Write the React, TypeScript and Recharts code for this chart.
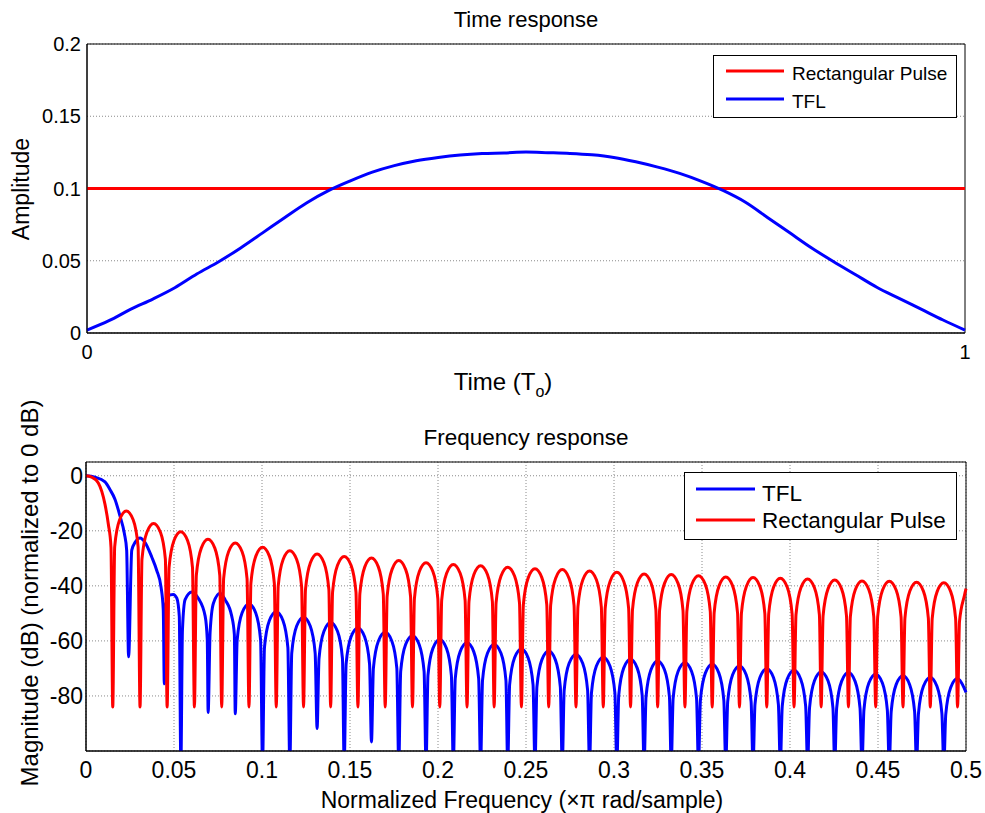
import { LineChart, Line, XAxis, YAxis, CartesianGrid, ReferenceArea } from "recharts";

const FONT = '"Liberation Sans", Arial, Helvetica, sans-serif';
const RED = "#ff0000";
const BLUE = "#0000ff";

// ---- time response (amplitude vs time in To) ----
const timeAxis = [
    0, 0.025, 0.05, 0.075, 0.1, 0.125, 0.15, 0.175, 0.2, 0.225,
    0.25, 0.275, 0.3, 0.325, 0.35, 0.375, 0.4, 0.425, 0.45, 0.475,
    0.5, 0.525, 0.55, 0.575, 0.6, 0.625, 0.65, 0.675, 0.7, 0.725,
    0.75, 0.775, 0.8, 0.825, 0.85, 0.875, 0.9, 0.925, 0.95, 0.975, 1,
];
const tflAmplitude = [
    0.002, 0.0085, 0.0165, 0.0235, 0.0313, 0.0408, 0.0493, 0.0589, 0.0693, 0.0798,
    0.09, 0.0985, 0.1053, 0.1113, 0.1158, 0.1192, 0.1215, 0.1232, 0.1242, 0.1246,
    0.1252, 0.1248, 0.1243, 0.1233, 0.1215, 0.1185, 0.1148, 0.1105, 0.105, 0.0985,
    0.0905, 0.08, 0.0695, 0.059, 0.0495, 0.0405, 0.0315, 0.024, 0.0165, 0.009, 0.002,
];
const rectTime = [0, 1];
const rectAmplitude = [0.1, 0.1];

const timeXTicks = [0, 1];
const timeYTicks = [0, 0.05, 0.1, 0.15, 0.2];

// ---- frequency response, [normalized freq, dB] ----
const tflDb: [number, number][] = [
    [0, 0], [0.0051, -0.5], [0.0108, -2.2], [0.0136, -5], [0.0165, -8.6], [0.0193, -14.6], [0.0218, -21], [0.0231, -27], [0.0242, -65.8],
    [0.026, -27], [0.0279, -24.2], [0.0307, -22.6], [0.0335, -24.2], [0.0374, -29.6], [0.0402, -34.4], [0.0426, -40.3], [0.0439, -48.7], [0.0445, -75.6],
    [0.0452, -47], [0.0478, -43.3], [0.0496, -43.1], [0.0516, -44.5], [0.053, -51], [0.0539, -105],
    [0.0548, -56], [0.0563, -45], [0.0601, -42.2], [0.0638, -44.5], [0.0677, -51], [0.0689, -59.5], [0.0694, -86],
    [0.0705, -57], [0.0724, -46.3], [0.0762, -42.7], [0.079, -45], [0.0828, -51], [0.0843, -57.7], [0.0848, -86.5],
    [0.0859, -59.6], [0.0887, -49.8], [0.0926, -46.6], [0.0964, -49.8], [0.0992, -59.6], [0.1003, -105],
    [0.1014, -62.4], [0.1042, -52.6], [0.1081, -49.4], [0.1119, -52.6], [0.1147, -62.4], [0.1158, -105],
    [0.1169, -64.4], [0.1197, -54.6], [0.1236, -51.4], [0.1274, -54.6], [0.1302, -64.4], [0.1313, -91.8],
    [0.1324, -66.3], [0.1352, -56.5], [0.139, -53.3], [0.1429, -56.5], [0.1457, -66.3], [0.1467, -105],
    [0.1478, -68.3], [0.1506, -58.5], [0.1545, -55.3], [0.1583, -58.5], [0.1611, -68.3], [0.1622, -96.7],
    [0.1633, -69.9], [0.1661, -60.1], [0.17, -56.9], [0.1738, -60.1], [0.1766, -69.9], [0.1777, -105],
    [0.1788, -71.1], [0.1816, -61.3], [0.1855, -58.1], [0.1893, -61.3], [0.1921, -71.1], [0.1932, -105],
    [0.1943, -72.5], [0.1971, -62.7], [0.201, -59.5], [0.2048, -62.7], [0.2076, -72.5], [0.2087, -105],
    [0.2098, -73.7], [0.2126, -63.9], [0.2165, -60.7], [0.2203, -63.9], [0.2231, -73.7], [0.2242, -105],
    [0.2253, -74.3], [0.2281, -64.5], [0.2319, -61.3], [0.2358, -64.5], [0.2386, -74.3], [0.2396, -105],
    [0.2407, -75.9], [0.2435, -66.1], [0.2474, -62.9], [0.2512, -66.1], [0.254, -75.9], [0.2551, -105],
    [0.2562, -76.7], [0.259, -66.9], [0.2629, -63.7], [0.2667, -66.9], [0.2695, -76.7], [0.2706, -105],
    [0.2717, -77.9], [0.2745, -68.1], [0.2784, -64.9], [0.2822, -68.1], [0.285, -77.9], [0.2861, -105],
    [0.2872, -78.9], [0.29, -69.1], [0.2939, -65.9], [0.2977, -69.1], [0.3005, -78.9], [0.3016, -105],
    [0.3027, -79.7], [0.3055, -69.9], [0.3094, -66.7], [0.3132, -69.9], [0.316, -79.7], [0.3171, -105],
    [0.3182, -80.3], [0.321, -70.5], [0.3248, -67.3], [0.3287, -70.5], [0.3315, -80.3], [0.3325, -105],
    [0.3336, -80.9], [0.3364, -71.1], [0.3403, -67.9], [0.3441, -71.1], [0.3469, -80.9], [0.348, -105],
    [0.3491, -81.5], [0.3519, -71.7], [0.3558, -68.5], [0.3596, -71.7], [0.3624, -81.5], [0.3635, -105],
    [0.3646, -82.1], [0.3674, -72.3], [0.3713, -69.1], [0.3751, -72.3], [0.3779, -82.1], [0.379, -105],
    [0.3801, -83.1], [0.3829, -73.3], [0.3868, -70.1], [0.3906, -73.3], [0.3934, -83.1], [0.3945, -105],
    [0.3956, -83.7], [0.3984, -73.9], [0.4023, -70.7], [0.4061, -73.9], [0.4089, -83.7], [0.41, -105],
    [0.4111, -84.3], [0.4139, -74.5], [0.4177, -71.3], [0.4216, -74.5], [0.4244, -84.3], [0.4254, -105],
    [0.4265, -84.5], [0.4293, -74.7], [0.4332, -71.5], [0.437, -74.7], [0.4398, -84.5], [0.4409, -105],
    [0.442, -85.1], [0.4448, -75.3], [0.4487, -72.1], [0.4525, -75.3], [0.4553, -85.1], [0.4564, -105],
    [0.4575, -85.7], [0.4603, -75.9], [0.4642, -72.7], [0.468, -75.9], [0.4708, -85.7], [0.4719, -105],
    [0.473, -86.3], [0.4758, -76.5], [0.4797, -73.3], [0.4835, -76.5], [0.4863, -86.3], [0.4874, -105],
    [0.4885, -86.7], [0.4913, -76.9], [0.4952, -73.7], [0.499, -77.2], [0.5, -78.7],
];

const rectPulseDb: [number, number][] = [
    [0, 0], [0.0032, -0.5], [0.007, -2.6], [0.0108, -10.4], [0.0127, -17.6], [0.0142, -26], [0.0152, -84],
    [0.0163, -25.8], [0.0191, -16], [0.0229, -12.8], [0.0268, -16], [0.0296, -25.8], [0.0307, -84],
    [0.0318, -30.3], [0.0346, -20.5], [0.0384, -17.3], [0.0423, -20.5], [0.0451, -30.3], [0.0461, -84],
    [0.0472, -33.3], [0.05, -23.5], [0.0538, -20.3], [0.0577, -23.5], [0.0605, -33.3], [0.0616, -84],
    [0.0627, -36.1], [0.0655, -26.3], [0.0693, -23.1], [0.0732, -26.3], [0.076, -36.1], [0.0771, -84],
    [0.0782, -37.4], [0.081, -27.6], [0.0848, -24.4], [0.0887, -27.6], [0.0915, -37.4], [0.0926, -84],
    [0.0937, -39], [0.0965, -29.2], [0.1003, -26], [0.1042, -29.2], [0.107, -39], [0.1081, -84],
    [0.1092, -40.2], [0.112, -30.4], [0.1158, -27.2], [0.1197, -30.4], [0.1225, -40.2], [0.1236, -84],
    [0.1247, -41.4], [0.1275, -31.6], [0.1313, -28.4], [0.1352, -31.6], [0.138, -41.4], [0.139, -84],
    [0.1401, -42.3], [0.1429, -32.5], [0.1467, -29.3], [0.1506, -32.5], [0.1534, -42.3], [0.1545, -84],
    [0.1556, -42.9], [0.1584, -33.1], [0.1622, -29.9], [0.1661, -33.1], [0.1689, -42.9], [0.17, -84],
    [0.1711, -43.8], [0.1739, -34], [0.1777, -30.8], [0.1816, -34], [0.1844, -43.8], [0.1855, -84],
    [0.1866, -44.6], [0.1894, -34.8], [0.1932, -31.6], [0.1971, -34.8], [0.1999, -44.6], [0.201, -84],
    [0.2021, -45.2], [0.2049, -35.4], [0.2087, -32.2], [0.2126, -35.4], [0.2154, -45.2], [0.2165, -84],
    [0.2176, -45.7], [0.2204, -35.9], [0.2242, -32.7], [0.2281, -35.9], [0.2309, -45.7], [0.2319, -84],
    [0.233, -46.2], [0.2358, -36.4], [0.2396, -33.2], [0.2435, -36.4], [0.2463, -46.2], [0.2474, -84],
    [0.2485, -46.8], [0.2513, -37], [0.2551, -33.8], [0.259, -37], [0.2618, -46.8], [0.2629, -84],
    [0.264, -47.1], [0.2668, -37.3], [0.2706, -34.1], [0.2745, -37.3], [0.2773, -47.1], [0.2784, -84],
    [0.2795, -47.6], [0.2823, -37.8], [0.2861, -34.6], [0.29, -37.8], [0.2928, -47.6], [0.2939, -84],
    [0.295, -48.1], [0.2978, -38.3], [0.3016, -35.1], [0.3055, -38.3], [0.3083, -48.1], [0.3094, -84],
    [0.3105, -48.7], [0.3133, -38.9], [0.3171, -35.7], [0.321, -38.9], [0.3238, -48.7], [0.3248, -84],
    [0.3259, -48.9], [0.3287, -39.1], [0.3325, -35.9], [0.3364, -39.1], [0.3392, -48.9], [0.3403, -84],
    [0.3414, -49.3], [0.3442, -39.5], [0.348, -36.3], [0.3519, -39.5], [0.3547, -49.3], [0.3558, -84],
    [0.3569, -49.8], [0.3597, -40], [0.3635, -36.8], [0.3674, -40], [0.3702, -49.8], [0.3713, -84],
    [0.3724, -50], [0.3752, -40.2], [0.379, -37], [0.3829, -40.2], [0.3857, -50], [0.3868, -84],
    [0.3879, -50.2], [0.3907, -40.4], [0.3945, -37.2], [0.3984, -40.4], [0.4012, -50.2], [0.4023, -84],
    [0.4034, -50.5], [0.4062, -40.7], [0.41, -37.5], [0.4139, -40.7], [0.4167, -50.5], [0.4177, -84],
    [0.4188, -50.9], [0.4216, -41.1], [0.4254, -37.9], [0.4293, -41.1], [0.4321, -50.9], [0.4332, -84],
    [0.4343, -51.2], [0.4371, -41.4], [0.4409, -38.2], [0.4448, -41.4], [0.4476, -51.2], [0.4487, -84],
    [0.4498, -51.3], [0.4526, -41.5], [0.4564, -38.3], [0.4603, -41.5], [0.4631, -51.3], [0.4642, -84],
    [0.4653, -51.7], [0.4681, -41.9], [0.4719, -38.7], [0.4758, -41.9], [0.4786, -51.7], [0.4797, -84],
    [0.4808, -51.9], [0.4836, -42.1], [0.4874, -38.9], [0.4913, -42.1], [0.4941, -51.9], [0.4952, -84],
    [0.4963, -53], [0.4991, -43.5], [0.5, -41],
];

const freqXTicks = [0, 0.05, 0.1, 0.15, 0.2, 0.25, 0.3, 0.35, 0.4, 0.45, 0.5];
const freqYTicks = [-80, -60, -40, -20, 0];

const timeTfl = timeAxis.map((t, i) => ({ t, amp: tflAmplitude[i] }));
const timeRect = rectTime.map((t, i) => ({ t, amp: rectAmplitude[i] }));
const freqTfl = tflDb.map(([f, db]) => ({ f, db }));
const freqRect = rectPulseDb.map(([f, db]) => ({ f, db }));

const GRID = "#8a8a8a";
const LW = 3;

function Legend2({ left, top, width, height, items, fontSize, lineX, textX }: any) {
    return (
        <svg style={{ position: "absolute", left, top }} width={width} height={height}>
            <rect x={0.5} y={0.5} width={width - 1} height={height - 1} fill="#fff" stroke="#000" strokeWidth={1} />
            {items.map((it: any) => (
                <g key={it.name}>
                    <line x1={lineX[0]} x2={lineX[1]} y1={it.y} y2={it.y} stroke={it.color} strokeWidth={LW} />
                    <text x={textX} y={it.baseline} fontSize={fontSize} fontFamily={FONT} fill="#000">{it.name}</text>
                </g>
            ))}
        </svg>
    );
}

const label = (extra: any) => ({
    position: "absolute" as const,
    lineHeight: 1,
    whiteSpace: "nowrap" as const,
    color: "#000",
    ...extra,
});

export default function App() {
    return (
        <div style={{ position: "relative", width: 985, height: 813, background: "#fff", fontFamily: FONT, overflow: "hidden" }}>
            <style>{"body{margin:0}"}</style>

            {/* Time response */}
            <div style={label({ left: 326, width: 400, textAlign: "center", top: 9, fontSize: 22 })}>Time response</div>
            <div style={label({ left: 21, top: 189, fontSize: 23, transform: "translate(-50%,-50%) rotate(-90deg)" })}>Amplitude</div>
            <div style={label({ left: 303, width: 400, textAlign: "center", top: 370, fontSize: 24 })}>
                Time (T<sub style={{ fontSize: 16, verticalAlign: -7 }}>o</sub>)
            </div>

            <div style={{ position: "absolute", left: 0, top: 0 }}>
                <LineChart width={985} height={400} margin={{ top: 44, right: 20, bottom: 37, left: 27 }}>
                    <CartesianGrid stroke={GRID} strokeDasharray="1 2" vertical={false} />
                    <XAxis
                        dataKey="t" type="number" domain={[0, 1]} ticks={timeXTicks}
                        allowDuplicatedCategory={false} height={30}
                        axisLine={{ stroke: "#000" }} tickLine={false} tickSize={0} tickMargin={12}
                        tick={{ fill: "#000", fontSize: 20, fontFamily: FONT }}
                    />
                    <YAxis
                        type="number" domain={[0, 0.2]} ticks={timeYTicks} width={60}
                        axisLine={{ stroke: "#000" }} tickLine={false} tickSize={0} tickMargin={6}
                        tick={{ fill: "#000", fontSize: 20, fontFamily: FONT }}
                    />
                    <ReferenceArea x1={0} x2={1} y1={0} y2={0.2} fill="none" stroke="#000" strokeWidth={1} />
                    <Line data={timeRect} dataKey="amp" type="linear" stroke={RED} strokeWidth={LW} dot={false} activeDot={false} isAnimationActive={false} />
                    <Line data={timeTfl} dataKey="amp" type="monotone" stroke={BLUE} strokeWidth={LW} dot={false} activeDot={false} isAnimationActive={false} />
                </LineChart>
            </div>

            <Legend2
                left={713} top={55} width={244} height={63} fontSize={19} lineX={[13, 71]} textX={79}
                items={[
                    { name: "Rectangular Pulse", color: RED, y: 16, baseline: 25 },
                    { name: "TFL", color: BLUE, y: 44, baseline: 53 },
                ]}
            />

            {/* Frequency response */}
            <div style={label({ left: 326, width: 400, textAlign: "center", top: 427, fontSize: 22.5 })}>Frequency response</div>
            <div style={label({ left: 30, top: 593, fontSize: 24, transform: "translate(-50%,-50%) rotate(-90deg)" })}>
                Magnitude (dB) (normalized to 0 dB)
            </div>
            <div style={label({ left: 222, width: 600, textAlign: "center", top: 789, fontSize: 23 })}>
                Normalized Frequency (×π rad/sample)
            </div>

            <div style={{ position: "absolute", left: 0, top: 400 }}>
                <LineChart width={985} height={413} margin={{ top: 62, right: 19, bottom: 32, left: 26 }}>
                    <CartesianGrid stroke={GRID} strokeDasharray="1 2" />
                    <XAxis
                        dataKey="f" type="number" domain={[0, 0.5]} ticks={freqXTicks}
                        allowDuplicatedCategory={false} height={30}
                        axisLine={{ stroke: "#000" }} tickLine={false} tickSize={0} tickMargin={11}
                        tick={{ fill: "#000", fontSize: 23, fontFamily: FONT }}
                    />
                    <YAxis
                        type="number" domain={[-100, 5]} ticks={freqYTicks} width={60} allowDataOverflow
                        axisLine={{ stroke: "#000" }} tickLine={false} tickSize={0} tickMargin={3}
                        tick={{ fill: "#000", fontSize: 23, fontFamily: FONT }}
                    />
                    <ReferenceArea x1={0} x2={0.5} y1={-100} y2={5} fill="none" stroke="#000" strokeWidth={1} />
                    <Line data={freqTfl} dataKey="db" type="monotone" stroke={BLUE} strokeWidth={LW} dot={false} activeDot={false} isAnimationActive={false} />
                    <Line data={freqRect} dataKey="db" type="monotone" stroke={RED} strokeWidth={LW} dot={false} activeDot={false} isAnimationActive={false} />
                </LineChart>
            </div>

            <Legend2
                left={684} top={472} width={273} height={68} fontSize={22.5} lineX={[12, 71]} textX={78}
                items={[
                    { name: "TFL", color: BLUE, y: 17, baseline: 28.5 },
                    { name: "Rectangular Pulse", color: RED, y: 48, baseline: 56 },
                ]}
            />
        </div>
    );
}
